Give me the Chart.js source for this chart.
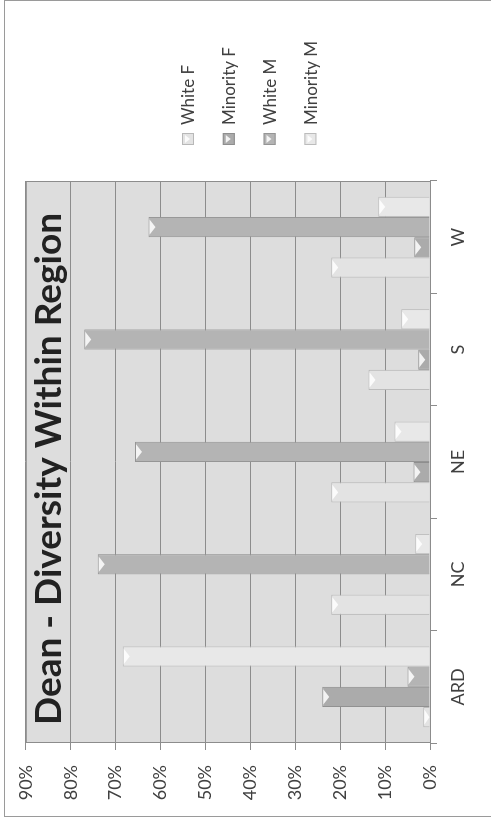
<!DOCTYPE html>
<html>
<head>
<meta charset="utf-8">
<title>Dean - Diversity Within Region</title>
<style>
    html, body {
        margin: 0;
        padding: 0;
        background: #fff;
        overflow: hidden;
    }

    body {
        width: 491px;
        height: 824px;
        position: relative;
    }

    /* the chart is laid out landscape, then turned a quarter turn left */
    #wrap {
        position: absolute;
        left: 0;
        top: 0;
        width: 824px;
        height: 491px;
        transform-origin: 0 0;
        transform: translate(0px, 824px) rotate(-90deg);
    }

    #frame {
        position: absolute;
        left: 7px;
        top: 4px;
        width: 817px;
        height: 500px;
        border: 1.5px solid #9a9a9a;
        box-sizing: border-box;
    }

    canvas {
        position: absolute;
        left: 0;
        top: 0;
    }
</style>
</head>
<body>
<div id="wrap">
    <div id="frame"></div>
    <canvas id="chart" width="824" height="491"></canvas>
</div>

<script src="https://cdn.jsdelivr.net/npm/chart.js"></script>
<script>
    // data (percent)
    const regions = ['ARD', 'NC', 'NE', 'S', 'W'];
    const whiteF = [1.5, 22, 22, 13.7, 22];
    const minorityF = [24, 0, 3.7, 2.6, 3.5];
    const whiteM = [5, 74, 65.7, 77, 62.7];
    const minorityM = [68.4, 3.3, 7.9, 6.4, 11.5];
    const percentTicks = [0, 10, 20, 30, 40, 50, 60, 70, 80, 90];

    const chartTitle = 'Dean - Diversity Within Region';
    const textColor = '#404040';

    function bevel(ctx, x, y, w, depth) {
        // light arrow-head at the end of each bar, like the excel 3d style
        ctx.beginPath();
        ctx.moveTo(x - w * 0.38, y + 1);
        ctx.lineTo(x + w * 0.38, y + 1);
        ctx.lineTo(x, y + depth);
        ctx.closePath();
        ctx.fill();
    }

    const decor = {
        id: 'decor',
        beforeDraw(chart) {
            const { ctx, chartArea: a } = chart;
            ctx.save();
            ctx.fillStyle = '#dddddd';
            ctx.fillRect(a.left, a.top, a.right - a.left, a.bottom - a.top);
            ctx.restore();
        },
        afterDatasetsDraw(chart) {
            const { ctx, chartArea: a } = chart;
            ctx.save();

            // bar end caps
            ctx.fillStyle = 'rgba(255,255,255,0.85)';
            chart.data.datasets.forEach((ds, i) => {
                chart.getDatasetMeta(i).data.forEach(bar => {
                    const h = bar.base - bar.y;
                    if (h < 2) return;
                    bevel(ctx, bar.x, bar.y, bar.width, Math.min(7, h));
                });
            });

            // plot area outline
            ctx.strokeStyle = '#8c8c8c';
            ctx.lineWidth = 1;
            ctx.strokeRect(a.left + 0.5, a.top + 0.5, a.right - a.left - 1, a.bottom - a.top);

            // title sits inside the plot area
            ctx.fillStyle = '#222';
            ctx.font = 'bold 37px Lato';
            ctx.textBaseline = 'alphabetic';
            ctx.textAlign = 'left';
            ctx.fillText(chartTitle, 99, 61);

            // legend
            ctx.font = '17px Lato';
            ctx.textBaseline = 'middle';
            chart.data.datasets.forEach((ds, i) => {
                const cy = 188 + i * 40.8;
                ctx.fillStyle = ds.backgroundColor;
                ctx.fillRect(679, cy - 6, 12, 12);
                ctx.strokeStyle = ds.borderColor;
                ctx.strokeRect(679.5, cy - 5.5, 11, 11);
                ctx.fillStyle = 'rgba(255,255,255,0.85)';
                ctx.beginPath();
                ctx.moveTo(681, cy - 3);
                ctx.lineTo(689, cy - 3);
                ctx.lineTo(685, cy + 2);
                ctx.closePath();
                ctx.fill();
                ctx.fillStyle = textColor;
                ctx.fillText(ds.label, 699, cy + 1);
            });
            ctx.restore();
        }
    };

    const ctx = document.getElementById('chart').getContext('2d');
    const chart = new Chart(ctx, {
        type: 'bar',
        data: {
            labels: regions,
            datasets: [
                { label: 'White F', data: whiteF, backgroundColor: '#e3e3e3', borderColor: '#b8b8b8' },
                { label: 'Minority F', data: minorityF, backgroundColor: '#ababab', borderColor: '#8e8e8e' },
                { label: 'White M', data: whiteM, backgroundColor: '#b4b4b4', borderColor: '#959595' },
                { label: 'Minority M', data: minorityM, backgroundColor: '#e8e8e8', borderColor: '#bcbcbc' }
            ]
        },
        options: {
            responsive: false,
            animation: false,
            layout: { padding: { top: 22, right: 181, bottom: 0, left: 0 } },
            datasets: {
                bar: {
                    borderWidth: 1,
                    borderSkipped: 'start',
                    categoryPercentage: 0.72,
                    barPercentage: 1
                }
            },
            plugins: {
                legend: { display: false },
                title: { display: false },
                tooltip: { enabled: false }
            },
            scales: {
                x: {
                    offset: true,
                    grid: {
                        offset: true,
                        drawOnChartArea: false,
                        tickLength: 7,
                        color: '#8c8c8c'
                    },
                    border: { color: '#8c8c8c' },
                    ticks: {
                        color: textColor,
                        padding: 10,
                        font: { family: 'Lato', size: 18 }
                    },
                    afterFit(scale) { scale.height = 61; }
                },
                y: {
                    min: 0,
                    max: 90,
                    afterBuildTicks(scale) {
                        scale.ticks = percentTicks.map(v => ({ value: v }));
                    },
                    grid: {
                        color: '#8c8c8c',
                        tickLength: 7
                    },
                    border: { color: '#8c8c8c' },
                    ticks: {
                        color: textColor,
                        padding: 15,
                        font: { family: 'Lato', size: 18 },
                        callback: v => v + '%'
                    },
                    afterFit(scale) { scale.width = 81; }
                }
            }
        },
        plugins: [decor]
    });
</script>
</body>
</html>
